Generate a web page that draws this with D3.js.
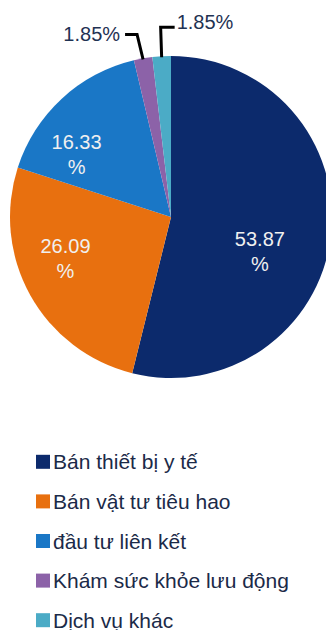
<!DOCTYPE html>
<html>
<head>
<meta charset="utf-8">
<script src="https://d3js.org/d3.v7.min.js"></script>
<style>
  body { margin: 0; background: #fff; }
  #chart svg { display: block; font-family: "Liberation Sans", Arial, sans-serif; }
</style>
</head>
<body>
<div id="chart"></div>
<script>
  // pie data, clockwise from 12 o'clock
  const categories = ["Bán thiết bị y tế", "Bán vật tư tiêu hao", "đầu tư liên kết", "Khám sức khỏe lưu động", "Dịch vụ khác"];
  const values = [53.87, 26.09, 16.33, 1.85, 1.85];
  const colors = ["#0c2a6c", "#e8700f", "#1a77c6", "#8c62a8", "#4babc6"];

  const width = 326;
  const height = 630;
  const cx = 171, cy = 217;
  const radius = 161;

  const svg = d3.select("#chart")
    .append("svg")
    .attr("width", width)
    .attr("height", height);

  const chartData = categories.map((c, i) => ({name: c, value: values[i], color: colors[i]}));

  const pie = d3.pie()
    .sort(null)
    .value(d => d.value);

  const arc = d3.arc()
    .innerRadius(0)
    .outerRadius(radius);

  const g = svg.append("g")
    .attr("transform", `translate(${cx}, ${cy})`);

  const arcs = pie(chartData);

  g.selectAll("path")
    .data(arcs)
    .enter()
    .append("path")
    .attr("d", arc)
    .attr("fill", d => d.data.color);

  // labels inside the big slices, split on two lines
  const labelArc = d3.arc()
    .innerRadius(radius * 0.7)
    .outerRadius(radius * 0.7);
  // small nudges so the labels sit like in the original (excel-like fitting)
  const nudge = [[-23, 21], [-7, -13], [-18, 20]];

  const inside = g.selectAll(".inlabel")
    .data(arcs.filter(d => d.data.value > 10))
    .enter()
    .append("text")
    .attr("class", "inlabel")
    .attr("text-anchor", "middle")
    .attr("fill", "#f0f0f0")
    .style("font-size", "20px")
    .attr("transform", (d, i) => {
      const [x, y] = labelArc.centroid(d);
      return `translate(${x + nudge[i][0]}, ${y + nudge[i][1]})`;
    });
  inside.append("tspan")
    .attr("x", 0)
    .attr("dy", "-0.28em")
    .text(d => d.data.value.toFixed(2));
  inside.append("tspan")
    .attr("x", 0)
    .attr("dy", "1.25em")
    .text("%");

  // small slices: labels on top with leader lines
  const small = arcs.filter(d => d.data.value < 10);
  const edge = d3.arc().innerRadius(radius).outerRadius(radius);
  const leaders = [
    {path: (p) => [[p[0] - 6, p[1] - 25], [p[0] - 18, p[1] - 25]], anchor: "end", dx: -5, dy: -1},
    {path: (p) => [[p[0] - 1, p[1] - 30], [p[0] + 13, p[1] - 30]], anchor: "start", dx: 2, dy: -5}
  ];

  small.forEach((d, i) => {
    const [ex, ey] = edge.centroid(d);
    const p = [ex, ey + 1];
    const o = leaders[i];
    const pts = [p].concat(o.path(p));
    g.append("path")
      .attr("d", d3.line()(pts))
      .attr("fill", "none")
      .attr("stroke", "#000")
      .attr("stroke-width", 3);
    const last = pts[pts.length - 1];
    g.append("text")
      .attr("x", last[0] + o.dx)
      .attr("y", last[1] + o.dy)
      .attr("dy", "0.36em")
      .attr("text-anchor", o.anchor)
      .attr("fill", "#1f3253")
      .style("font-size", "20px")
      .text(d.data.value.toFixed(2) + "%");
  });

  // legend
  const legendY = d3.scaleBand()
    .domain(categories)
    .range([442, 640])
    .padding(0);

  const legend = svg.selectAll(".legend")
    .data(chartData)
    .enter()
    .append("g")
    .attr("class", "legend")
    .attr("transform", d => `translate(36, ${legendY(d.name) + legendY.bandwidth() / 2})`);

  legend.append("rect")
    .attr("x", 0)
    .attr("y", -7)
    .attr("width", 14)
    .attr("height", 14)
    .attr("fill", d => d.color);

  legend.append("text")
    .attr("x", 17)
    .attr("dy", "0.36em")
    .attr("fill", "#1b2a48")
    .style("font-size", "21px")
    .text(d => d.name);
</script>
</body>
</html>
